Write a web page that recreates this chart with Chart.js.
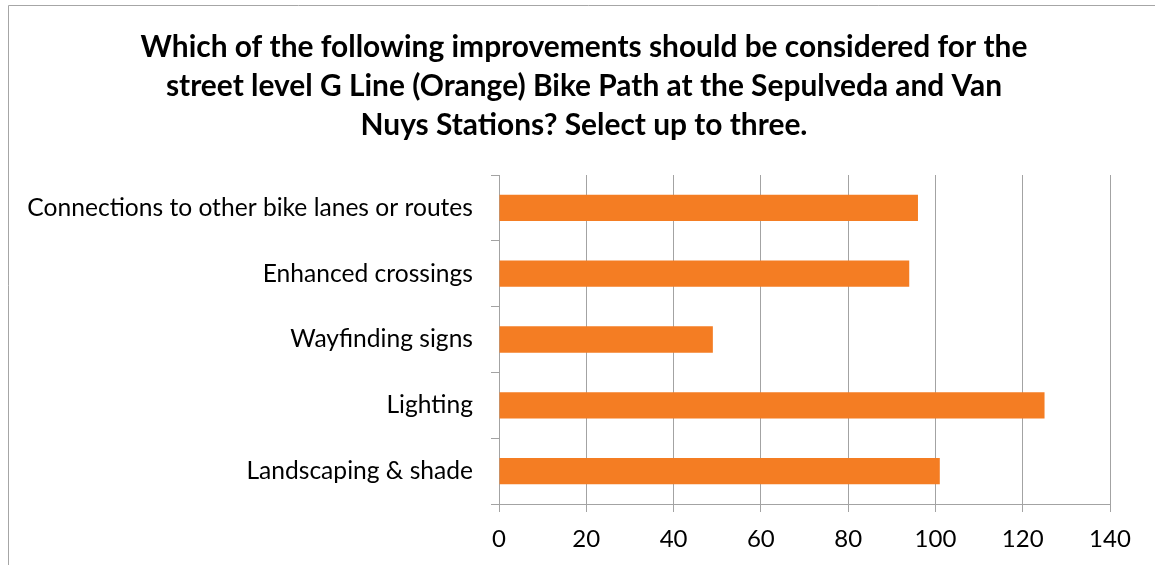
<!DOCTYPE html>
<html>
<head>
<meta charset="utf-8">
<script src="https://cdn.jsdelivr.net/npm/chart.js@4.4.0/dist/chart.umd.min.js"></script>
<style>
  html, body { margin: 0; padding: 0; background: #ffffff; overflow: hidden; }
  #wrap { width: 1155px; height: 565px; position: relative; overflow: hidden; }
</style>
</head>
<body>
<div id="wrap"><canvas id="chart" width="1168" height="565"></canvas></div>
<script>
// Survey responses per improvement
const categories = [
  'Connections to other bike lanes or routes',
  'Enhanced crossings',
  'Wayfinding signs',
  'Lighting',
  'Landscaping & shade'
];
const responses = [96, 94, 49, 125, 101];
const titleLines = [
  'Which of the following improvements should be considered for the',
  'street level G Line (Orange) Bike Path at the Sepulveda and Van',
  'Nuys Stations? Select up to three.'
];
const axisMin = 0;
const axisMax = 140;
const axisStep = 20;

const GRID = '#a3a3a3';
const FONT = 'Lato, "Open Sans", sans-serif';

// Outer frame of the chart (left and top edges run into the page)
const framePlugin = {
  id: 'frame',
  beforeDraw(chart) {
    const ctx = chart.ctx;
    ctx.save();
    ctx.strokeStyle = '#a6a6a6';
    ctx.lineWidth = 1;
    ctx.beginPath();
    ctx.moveTo(8.5, chart.height + 5);
    ctx.lineTo(8.5, 5.5);
    ctx.lineTo(chart.width + 5, 5.5);
    ctx.stroke();
    ctx.restore();
  }
};

new Chart(document.getElementById('chart'), {
  type: 'bar',
  data: {
    labels: categories,
    datasets: [{
      data: responses,
      backgroundColor: '#F47D23',
      borderWidth: 0,
      barPercentage: 0.4,
      categoryPercentage: 1.0
    }]
  },
  options: {
    indexAxis: 'y',
    responsive: false,
    animation: false,
    devicePixelRatio: 1,
    layout: { padding: 0 },
    plugins: {
      legend: { display: false },
      tooltip: { enabled: false },
      title: {
        display: true,
        text: titleLines,
        color: '#000000',
        font: { family: FONT, size: 29.9, weight: 'bold', lineHeight: 1.3 },
        padding: { top: 28, bottom: 30.4 }
      }
    },
    scales: {
      x: {
        min: axisMin,
        max: axisMax,
        ticks: {
          stepSize: axisStep,
          color: '#000000',
          font: { family: FONT, size: 24 },
          padding: 13
        },
        grid: {
          color: GRID,
          lineWidth: 1,
          drawTicks: true,
          tickLength: 8,
          tickColor: GRID
        },
        border: { color: GRID, width: 1 },
        afterFit(scale) { scale.height = 61; }
      },
      y: {
        ticks: {
          color: '#000000',
          font: { family: FONT, size: 24.6 },
          padding: 18
        },
        grid: {
          offset: true,
          drawOnChartArea: false,
          drawTicks: true,
          tickLength: 8,
          color: GRID,
          tickColor: GRID
        },
        border: { color: GRID, width: 1 },
        afterFit(scale) { scale.width = 499; }
      },
      // empty margin on the right side of the plot
      yRight: {
        type: 'category',
        position: 'right',
        labels: categories,
        ticks: { display: false },
        grid: { display: false },
        border: { display: false },
        afterFit(scale) { scale.width = 58; }
      }
    }
  },
  plugins: [framePlugin]
});
</script>
</body>
</html>
